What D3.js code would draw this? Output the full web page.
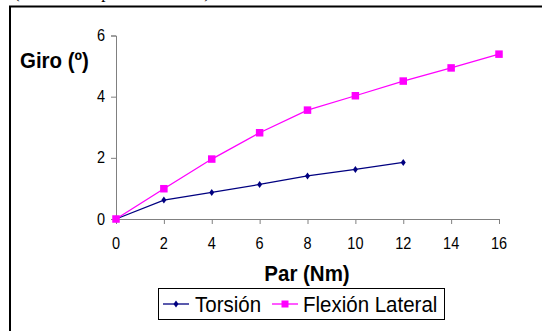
<!DOCTYPE html>
<html>
<head>
<meta charset="utf-8">
<script src="https://cdn.jsdelivr.net/npm/d3@7.9.0/dist/d3.min.js"></script>
<style>
  html, body { margin: 0; padding: 0; background: #fff; overflow: hidden; }
  svg { display: block; }
</style>
</head>
<body>
<svg id="chart" width="542" height="331"></svg>
<script>
// data
const parValues = [0, 2, 4, 6, 8, 10, 12, 14, 16];
const torsion = [0, 0.62, 0.87, 1.13, 1.41, 1.62, 1.85];
const flexionLateral = [0, 0.99, 1.96, 2.82, 3.56, 4.03, 4.51, 4.94, 5.39];
const xTicks = [0, 2, 4, 6, 8, 10, 12, 14, 16];
const yTicks = [0, 2, 4, 6];
const seriesNames = ["Torsión", "Flexión Lateral"];

const svg = d3.select("#chart");
const font = "Liberation Sans, Arial, sans-serif";
const stretch = 1.1; // the reference text is a bit taller than wide

// text helper, stretched vertically around its baseline
function label(parent, x, y, str, size, opts = {}) {
  return parent.append("text")
    .attr("transform", `translate(${x},${y}) scale(1,${stretch})`)
    .attr("font-family", font)
    .attr("font-size", size)
    .attr("font-weight", opts.bold ? "bold" : "normal")
    .attr("text-anchor", opts.anchor || "start")
    .attr("fill", "#000")
    .text(str);
}

// caption line of the page above, mostly cut off by the top edge
svg.append("text")
  .attr("x", 14).attr("y", -2.5)
  .attr("font-family", "Liberation Serif, Times New Roman, serif")
  .attr("font-size", 17)
  .text("(ancho de la probeta 40 mm)");

// chart frame (runs off the page right and bottom)
svg.append("rect")
  .attr("x", 10).attr("y", 6.5)
  .attr("width", 560).attr("height", 360)
  .attr("fill", "none").attr("stroke", "#000").attr("stroke-width", 2);

const x = d3.scaleLinear().domain([0, 16]).range([116, 499]);
const y = d3.scaleLinear().domain([0, 6]).range([219, 35.5]);

// axes
const xAxis = svg.append("g")
  .attr("transform", `translate(0,${y(0)})`)
  .call(d3.axisBottom(x).tickValues(xTicks).tickSize(5).tickFormat(d3.format("d")));
const yAxis = svg.append("g")
  .attr("transform", `translate(${x(0)},0)`)
  .call(d3.axisLeft(y).tickValues(yTicks).tickSize(5).tickFormat(d3.format("d")));

[xAxis, yAxis].forEach(g => {
  g.select(".domain").attr("stroke", "#808080").attr("stroke-width", 1);
  g.selectAll(".tick line").attr("stroke", "#808080");
  g.selectAll(".tick text").remove();
});

// tick labels, drawn through the scales
xTicks.forEach(t => label(svg, x(t), 249, d3.format("d")(t), 14.5, { anchor: "middle" }));
yTicks.forEach(t => label(svg, 105, y(t) + 5.5, d3.format("d")(t), 14.5, { anchor: "end" }));

// axis titles
label(svg, 20, 68, "Giro (º)", 20.5, { bold: true });
label(svg, 307, 281, "Par (Nm)", 20.5, { bold: true, anchor: "middle" });

const line = d3.line().x(d => x(d[0])).y(d => y(d[1]));
const torsionPts = torsion.map((v, i) => [parValues[i], v]);
const flexPts = flexionLateral.map((v, i) => [parValues[i], v]);

const diamond = "M0,-3.5L2.5,0L0,3.5L-2.5,0Z";

// Torsión
svg.append("path").datum(torsionPts)
  .attr("d", line).attr("fill", "none").attr("stroke", "#000080").attr("stroke-width", 1.3);
svg.selectAll(".tor").data(torsionPts).join("path")
  .attr("class", "tor")
  .attr("transform", d => `translate(${x(d[0])},${y(d[1])})`)
  .attr("d", diamond).attr("fill", "#000080");

// Flexión Lateral
svg.append("path").datum(flexPts)
  .attr("d", line).attr("fill", "none").attr("stroke", "#FF00FF").attr("stroke-width", 1.3);
svg.selectAll(".flx").data(flexPts).join("rect")
  .attr("class", "flx")
  .attr("x", d => x(d[0]) - 3.75).attr("y", d => y(d[1]) - 3.75)
  .attr("width", 7.5).attr("height", 7.5)
  .attr("fill", "#FF00FF");

// legend
const legend = svg.append("g");
legend.append("rect")
  .attr("x", 158.5).attr("y", 288.5).attr("width", 286).attr("height", 31)
  .attr("fill", "#fff").attr("stroke", "#000").attr("stroke-width", 1);
const items = [
  { name: seriesNames[0], color: "#000080", x0: 163, tx: 195, marker: "d" },
  { name: seriesNames[1], color: "#FF00FF", x0: 272, tx: 303, marker: "s" }
];
items.forEach(it => {
  const cy = 304;
  legend.append("line")
    .attr("x1", it.x0).attr("x2", it.x0 + 26).attr("y1", cy).attr("y2", cy)
    .attr("stroke", it.color).attr("stroke-width", 1.3);
  if (it.marker === "d") {
    legend.append("path").attr("transform", `translate(${it.x0 + 13},${cy})`)
      .attr("d", diamond).attr("fill", it.color);
  } else {
    legend.append("rect").attr("x", it.x0 + 13 - 3.5).attr("y", cy - 3.5)
      .attr("width", 7).attr("height", 7).attr("fill", it.color);
  }
  label(legend, it.tx, cy + 8, it.name, 20.5);
});
</script>
</body>
</html>
